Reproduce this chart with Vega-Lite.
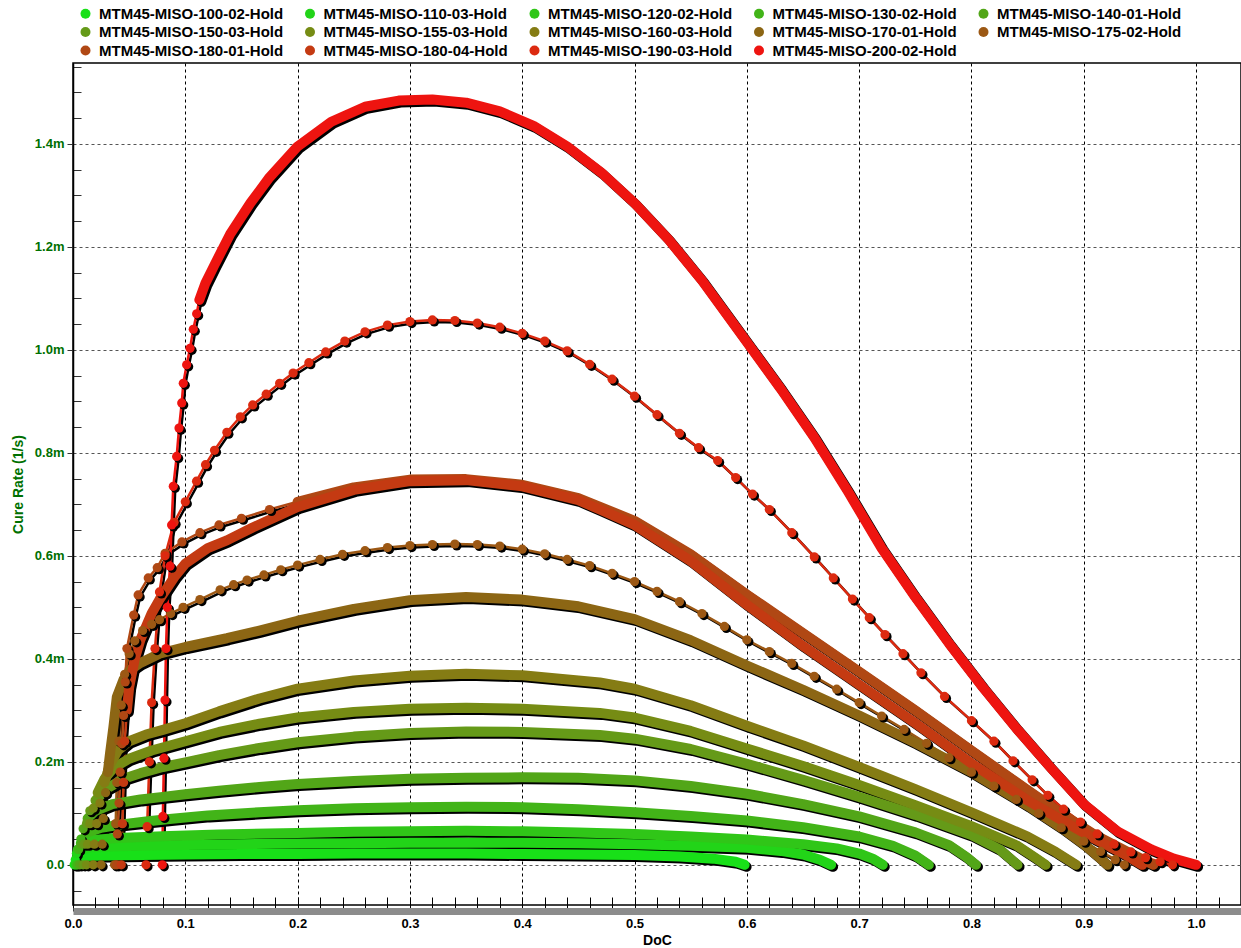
{
"$schema": "https://vega.github.io/schema/vega-lite/v6.json",
"width": 1168, "height": 842,
"autosize": {"type": "none"},
"padding": {"left": 73, "top": 63, "right": 0, "bottom": 43},
"background": "white",
"config": {"font": "Liberation Sans", "view": {"stroke": "black", "strokeWidth": 1.5}},
"data": {"values": [
{"Series":"MTM45-MISO-100-02-Hold","DoC":0.001,"CureRate":0},{"Series":"MTM45-MISO-100-02-Hold","DoC":0.002,"CureRate":0.010},{"Series":"MTM45-MISO-100-02-Hold","DoC":0.004,"CureRate":0.015},{"Series":"MTM45-MISO-100-02-Hold","DoC":0.01,"CureRate":0.017},{"Series":"MTM45-MISO-100-02-Hold","DoC":0.03,"CureRate":0.018},{"Series":"MTM45-MISO-100-02-Hold","DoC":0.06,"CureRate":0.019},{"Series":"MTM45-MISO-100-02-Hold","DoC":0.1,"CureRate":0.020},{"Series":"MTM45-MISO-100-02-Hold","DoC":0.15,"CureRate":0.021},{"Series":"MTM45-MISO-100-02-Hold","DoC":0.2,"CureRate":0.021},{"Series":"MTM45-MISO-100-02-Hold","DoC":0.25,"CureRate":0.022},{"Series":"MTM45-MISO-100-02-Hold","DoC":0.3,"CureRate":0.022},{"Series":"MTM45-MISO-100-02-Hold","DoC":0.35,"CureRate":0.022},{"Series":"MTM45-MISO-100-02-Hold","DoC":0.4,"CureRate":0.021},{"Series":"MTM45-MISO-100-02-Hold","DoC":0.45,"CureRate":0.020},{"Series":"MTM45-MISO-100-02-Hold","DoC":0.5,"CureRate":0.019},{"Series":"MTM45-MISO-100-02-Hold","DoC":0.54,"CureRate":0.016},{"Series":"MTM45-MISO-100-02-Hold","DoC":0.57,"CureRate":0.012},{"Series":"MTM45-MISO-100-02-Hold","DoC":0.59,"CureRate":0.006},{"Series":"MTM45-MISO-100-02-Hold","DoC":0.598,"CureRate":0},
{"Series":"MTM45-MISO-110-03-Hold","DoC":0.002,"CureRate":0},{"Series":"MTM45-MISO-110-03-Hold","DoC":0.003,"CureRate":0.022},{"Series":"MTM45-MISO-110-03-Hold","DoC":0.006,"CureRate":0.030},{"Series":"MTM45-MISO-110-03-Hold","DoC":0.015,"CureRate":0.034},{"Series":"MTM45-MISO-110-03-Hold","DoC":0.04,"CureRate":0.036},{"Series":"MTM45-MISO-110-03-Hold","DoC":0.08,"CureRate":0.038},{"Series":"MTM45-MISO-110-03-Hold","DoC":0.12,"CureRate":0.039},{"Series":"MTM45-MISO-110-03-Hold","DoC":0.18,"CureRate":0.041},{"Series":"MTM45-MISO-110-03-Hold","DoC":0.25,"CureRate":0.042},{"Series":"MTM45-MISO-110-03-Hold","DoC":0.3,"CureRate":0.043},{"Series":"MTM45-MISO-110-03-Hold","DoC":0.35,"CureRate":0.043},{"Series":"MTM45-MISO-110-03-Hold","DoC":0.4,"CureRate":0.043},{"Series":"MTM45-MISO-110-03-Hold","DoC":0.45,"CureRate":0.042},{"Series":"MTM45-MISO-110-03-Hold","DoC":0.5,"CureRate":0.040},{"Series":"MTM45-MISO-110-03-Hold","DoC":0.55,"CureRate":0.037},{"Series":"MTM45-MISO-110-03-Hold","DoC":0.6,"CureRate":0.033},{"Series":"MTM45-MISO-110-03-Hold","DoC":0.63,"CureRate":0.027},{"Series":"MTM45-MISO-110-03-Hold","DoC":0.65,"CureRate":0.020},{"Series":"MTM45-MISO-110-03-Hold","DoC":0.665,"CureRate":0.010},{"Series":"MTM45-MISO-110-03-Hold","DoC":0.675,"CureRate":0},
{"Series":"MTM45-MISO-120-02-Hold","DoC":0.003,"CureRate":0},{"Series":"MTM45-MISO-120-02-Hold","DoC":0.004,"CureRate":0.030},{"Series":"MTM45-MISO-120-02-Hold","DoC":0.007,"CureRate":0.042},{"Series":"MTM45-MISO-120-02-Hold","DoC":0.015,"CureRate":0.048},{"Series":"MTM45-MISO-120-02-Hold","DoC":0.04,"CureRate":0.052},{"Series":"MTM45-MISO-120-02-Hold","DoC":0.086,"CureRate":0.056},{"Series":"MTM45-MISO-120-02-Hold","DoC":0.13,"CureRate":0.059},{"Series":"MTM45-MISO-120-02-Hold","DoC":0.2,"CureRate":0.062},{"Series":"MTM45-MISO-120-02-Hold","DoC":0.25,"CureRate":0.064},{"Series":"MTM45-MISO-120-02-Hold","DoC":0.3,"CureRate":0.065},{"Series":"MTM45-MISO-120-02-Hold","DoC":0.35,"CureRate":0.066},{"Series":"MTM45-MISO-120-02-Hold","DoC":0.4,"CureRate":0.065},{"Series":"MTM45-MISO-120-02-Hold","DoC":0.45,"CureRate":0.063},{"Series":"MTM45-MISO-120-02-Hold","DoC":0.5,"CureRate":0.060},{"Series":"MTM45-MISO-120-02-Hold","DoC":0.55,"CureRate":0.055},{"Series":"MTM45-MISO-120-02-Hold","DoC":0.6,"CureRate":0.049},{"Series":"MTM45-MISO-120-02-Hold","DoC":0.65,"CureRate":0.040},{"Series":"MTM45-MISO-120-02-Hold","DoC":0.68,"CureRate":0.032},{"Series":"MTM45-MISO-120-02-Hold","DoC":0.7,"CureRate":0.022},{"Series":"MTM45-MISO-120-02-Hold","DoC":0.713,"CureRate":0.011},{"Series":"MTM45-MISO-120-02-Hold","DoC":0.721,"CureRate":0},
{"Series":"MTM45-MISO-130-02-Hold","DoC":0.004,"CureRate":0},{"Series":"MTM45-MISO-130-02-Hold","DoC":0.005,"CureRate":0.030},{"Series":"MTM45-MISO-130-02-Hold","DoC":0.007,"CureRate":0.050},{"Series":"MTM45-MISO-130-02-Hold","DoC":0.012,"CureRate":0.062},{"Series":"MTM45-MISO-130-02-Hold","DoC":0.025,"CureRate":0.072},{"Series":"MTM45-MISO-130-02-Hold","DoC":0.045,"CureRate":0.079},{"Series":"MTM45-MISO-130-02-Hold","DoC":0.065,"CureRate":0.084},{"Series":"MTM45-MISO-130-02-Hold","DoC":0.086,"CureRate":0.089},{"Series":"MTM45-MISO-130-02-Hold","DoC":0.12,"CureRate":0.096},{"Series":"MTM45-MISO-130-02-Hold","DoC":0.166,"CureRate":0.102},{"Series":"MTM45-MISO-130-02-Hold","DoC":0.2,"CureRate":0.106},{"Series":"MTM45-MISO-130-02-Hold","DoC":0.25,"CureRate":0.110},{"Series":"MTM45-MISO-130-02-Hold","DoC":0.3,"CureRate":0.112},{"Series":"MTM45-MISO-130-02-Hold","DoC":0.35,"CureRate":0.113},{"Series":"MTM45-MISO-130-02-Hold","DoC":0.4,"CureRate":0.112},{"Series":"MTM45-MISO-130-02-Hold","DoC":0.45,"CureRate":0.108},{"Series":"MTM45-MISO-130-02-Hold","DoC":0.5,"CureRate":0.102},{"Series":"MTM45-MISO-130-02-Hold","DoC":0.55,"CureRate":0.095},{"Series":"MTM45-MISO-130-02-Hold","DoC":0.6,"CureRate":0.086},{"Series":"MTM45-MISO-130-02-Hold","DoC":0.65,"CureRate":0.073},{"Series":"MTM45-MISO-130-02-Hold","DoC":0.7,"CureRate":0.055},{"Series":"MTM45-MISO-130-02-Hold","DoC":0.73,"CureRate":0.037},{"Series":"MTM45-MISO-130-02-Hold","DoC":0.75,"CureRate":0.018},{"Series":"MTM45-MISO-130-02-Hold","DoC":0.762,"CureRate":0},
{"Series":"MTM45-MISO-140-01-Hold","DoC":0.006,"CureRate":0},{"Series":"MTM45-MISO-140-01-Hold","DoC":0.007,"CureRate":0.040},{"Series":"MTM45-MISO-140-01-Hold","DoC":0.009,"CureRate":0.070},{"Series":"MTM45-MISO-140-01-Hold","DoC":0.013,"CureRate":0.090},{"Series":"MTM45-MISO-140-01-Hold","DoC":0.02,"CureRate":0.105},{"Series":"MTM45-MISO-140-01-Hold","DoC":0.035,"CureRate":0.118},{"Series":"MTM45-MISO-140-01-Hold","DoC":0.06,"CureRate":0.127},{"Series":"MTM45-MISO-140-01-Hold","DoC":0.08,"CureRate":0.132},{"Series":"MTM45-MISO-140-01-Hold","DoC":0.1,"CureRate":0.137},{"Series":"MTM45-MISO-140-01-Hold","DoC":0.13,"CureRate":0.144},{"Series":"MTM45-MISO-140-01-Hold","DoC":0.166,"CureRate":0.151},{"Series":"MTM45-MISO-140-01-Hold","DoC":0.2,"CureRate":0.157},{"Series":"MTM45-MISO-140-01-Hold","DoC":0.25,"CureRate":0.163},{"Series":"MTM45-MISO-140-01-Hold","DoC":0.3,"CureRate":0.167},{"Series":"MTM45-MISO-140-01-Hold","DoC":0.35,"CureRate":0.169},{"Series":"MTM45-MISO-140-01-Hold","DoC":0.4,"CureRate":0.170},{"Series":"MTM45-MISO-140-01-Hold","DoC":0.45,"CureRate":0.169},{"Series":"MTM45-MISO-140-01-Hold","DoC":0.5,"CureRate":0.164},{"Series":"MTM45-MISO-140-01-Hold","DoC":0.55,"CureRate":0.153},{"Series":"MTM45-MISO-140-01-Hold","DoC":0.6,"CureRate":0.138},{"Series":"MTM45-MISO-140-01-Hold","DoC":0.65,"CureRate":0.118},{"Series":"MTM45-MISO-140-01-Hold","DoC":0.7,"CureRate":0.094},{"Series":"MTM45-MISO-140-01-Hold","DoC":0.75,"CureRate":0.063},{"Series":"MTM45-MISO-140-01-Hold","DoC":0.78,"CureRate":0.038},{"Series":"MTM45-MISO-140-01-Hold","DoC":0.795,"CureRate":0.016},{"Series":"MTM45-MISO-140-01-Hold","DoC":0.804,"CureRate":0},
{"Series":"MTM45-MISO-150-03-Hold","DoC":0.009,"CureRate":0},{"Series":"MTM45-MISO-150-03-Hold","DoC":0.01,"CureRate":0.040},{"Series":"MTM45-MISO-150-03-Hold","DoC":0.012,"CureRate":0.080},{"Series":"MTM45-MISO-150-03-Hold","DoC":0.015,"CureRate":0.105},{"Series":"MTM45-MISO-150-03-Hold","DoC":0.02,"CureRate":0.125},{"Series":"MTM45-MISO-150-03-Hold","DoC":0.03,"CureRate":0.148},{"Series":"MTM45-MISO-150-03-Hold","DoC":0.045,"CureRate":0.167},{"Series":"MTM45-MISO-150-03-Hold","DoC":0.06,"CureRate":0.178},{"Series":"MTM45-MISO-150-03-Hold","DoC":0.08,"CureRate":0.190},{"Series":"MTM45-MISO-150-03-Hold","DoC":0.1,"CureRate":0.199},{"Series":"MTM45-MISO-150-03-Hold","DoC":0.13,"CureRate":0.213},{"Series":"MTM45-MISO-150-03-Hold","DoC":0.166,"CureRate":0.227},{"Series":"MTM45-MISO-150-03-Hold","DoC":0.2,"CureRate":0.238},{"Series":"MTM45-MISO-150-03-Hold","DoC":0.25,"CureRate":0.249},{"Series":"MTM45-MISO-150-03-Hold","DoC":0.3,"CureRate":0.256},{"Series":"MTM45-MISO-150-03-Hold","DoC":0.35,"CureRate":0.259},{"Series":"MTM45-MISO-150-03-Hold","DoC":0.4,"CureRate":0.258},{"Series":"MTM45-MISO-150-03-Hold","DoC":0.469,"CureRate":0.252},{"Series":"MTM45-MISO-150-03-Hold","DoC":0.5,"CureRate":0.245},{"Series":"MTM45-MISO-150-03-Hold","DoC":0.55,"CureRate":0.225},{"Series":"MTM45-MISO-150-03-Hold","DoC":0.6,"CureRate":0.196},{"Series":"MTM45-MISO-150-03-Hold","DoC":0.65,"CureRate":0.165},{"Series":"MTM45-MISO-150-03-Hold","DoC":0.7,"CureRate":0.132},{"Series":"MTM45-MISO-150-03-Hold","DoC":0.75,"CureRate":0.097},{"Series":"MTM45-MISO-150-03-Hold","DoC":0.8,"CureRate":0.058},{"Series":"MTM45-MISO-150-03-Hold","DoC":0.825,"CureRate":0.030},{"Series":"MTM45-MISO-150-03-Hold","DoC":0.841,"CureRate":0},
{"Series":"MTM45-MISO-155-03-Hold","DoC":0.012,"CureRate":0},{"Series":"MTM45-MISO-155-03-Hold","DoC":0.013,"CureRate":0.040},{"Series":"MTM45-MISO-155-03-Hold","DoC":0.015,"CureRate":0.080},{"Series":"MTM45-MISO-155-03-Hold","DoC":0.018,"CureRate":0.110},{"Series":"MTM45-MISO-155-03-Hold","DoC":0.022,"CureRate":0.140},{"Series":"MTM45-MISO-155-03-Hold","DoC":0.028,"CureRate":0.167},{"Series":"MTM45-MISO-155-03-Hold","DoC":0.036,"CureRate":0.188},{"Series":"MTM45-MISO-155-03-Hold","DoC":0.05,"CureRate":0.206},{"Series":"MTM45-MISO-155-03-Hold","DoC":0.07,"CureRate":0.222},{"Series":"MTM45-MISO-155-03-Hold","DoC":0.1,"CureRate":0.240},{"Series":"MTM45-MISO-155-03-Hold","DoC":0.13,"CureRate":0.258},{"Series":"MTM45-MISO-155-03-Hold","DoC":0.166,"CureRate":0.274},{"Series":"MTM45-MISO-155-03-Hold","DoC":0.2,"CureRate":0.286},{"Series":"MTM45-MISO-155-03-Hold","DoC":0.25,"CureRate":0.297},{"Series":"MTM45-MISO-155-03-Hold","DoC":0.3,"CureRate":0.303},{"Series":"MTM45-MISO-155-03-Hold","DoC":0.35,"CureRate":0.305},{"Series":"MTM45-MISO-155-03-Hold","DoC":0.4,"CureRate":0.303},{"Series":"MTM45-MISO-155-03-Hold","DoC":0.469,"CureRate":0.295},{"Series":"MTM45-MISO-155-03-Hold","DoC":0.5,"CureRate":0.286},{"Series":"MTM45-MISO-155-03-Hold","DoC":0.55,"CureRate":0.260},{"Series":"MTM45-MISO-155-03-Hold","DoC":0.6,"CureRate":0.226},{"Series":"MTM45-MISO-155-03-Hold","DoC":0.65,"CureRate":0.192},{"Series":"MTM45-MISO-155-03-Hold","DoC":0.7,"CureRate":0.155},{"Series":"MTM45-MISO-155-03-Hold","DoC":0.75,"CureRate":0.116},{"Series":"MTM45-MISO-155-03-Hold","DoC":0.8,"CureRate":0.075},{"Series":"MTM45-MISO-155-03-Hold","DoC":0.84,"CureRate":0.038},{"Series":"MTM45-MISO-155-03-Hold","DoC":0.856,"CureRate":0.015},{"Series":"MTM45-MISO-155-03-Hold","DoC":0.866,"CureRate":0},
{"Series":"MTM45-MISO-160-03-Hold","DoC":0.018,"CureRate":0},{"Series":"MTM45-MISO-160-03-Hold","DoC":0.019,"CureRate":0.040},{"Series":"MTM45-MISO-160-03-Hold","DoC":0.021,"CureRate":0.080},{"Series":"MTM45-MISO-160-03-Hold","DoC":0.024,"CureRate":0.120},{"Series":"MTM45-MISO-160-03-Hold","DoC":0.028,"CureRate":0.160},{"Series":"MTM45-MISO-160-03-Hold","DoC":0.033,"CureRate":0.195},{"Series":"MTM45-MISO-160-03-Hold","DoC":0.04,"CureRate":0.222},{"Series":"MTM45-MISO-160-03-Hold","DoC":0.05,"CureRate":0.240},{"Series":"MTM45-MISO-160-03-Hold","DoC":0.065,"CureRate":0.253},{"Series":"MTM45-MISO-160-03-Hold","DoC":0.08,"CureRate":0.262},{"Series":"MTM45-MISO-160-03-Hold","DoC":0.1,"CureRate":0.275},{"Series":"MTM45-MISO-160-03-Hold","DoC":0.13,"CureRate":0.298},{"Series":"MTM45-MISO-160-03-Hold","DoC":0.166,"CureRate":0.323},{"Series":"MTM45-MISO-160-03-Hold","DoC":0.2,"CureRate":0.342},{"Series":"MTM45-MISO-160-03-Hold","DoC":0.25,"CureRate":0.358},{"Series":"MTM45-MISO-160-03-Hold","DoC":0.3,"CureRate":0.367},{"Series":"MTM45-MISO-160-03-Hold","DoC":0.35,"CureRate":0.371},{"Series":"MTM45-MISO-160-03-Hold","DoC":0.4,"CureRate":0.368},{"Series":"MTM45-MISO-160-03-Hold","DoC":0.469,"CureRate":0.354},{"Series":"MTM45-MISO-160-03-Hold","DoC":0.5,"CureRate":0.342},{"Series":"MTM45-MISO-160-03-Hold","DoC":0.55,"CureRate":0.310},{"Series":"MTM45-MISO-160-03-Hold","DoC":0.6,"CureRate":0.270},{"Series":"MTM45-MISO-160-03-Hold","DoC":0.65,"CureRate":0.232},{"Series":"MTM45-MISO-160-03-Hold","DoC":0.7,"CureRate":0.190},{"Series":"MTM45-MISO-160-03-Hold","DoC":0.75,"CureRate":0.147},{"Series":"MTM45-MISO-160-03-Hold","DoC":0.8,"CureRate":0.102},{"Series":"MTM45-MISO-160-03-Hold","DoC":0.85,"CureRate":0.055},{"Series":"MTM45-MISO-160-03-Hold","DoC":0.875,"CureRate":0.025},{"Series":"MTM45-MISO-160-03-Hold","DoC":0.893,"CureRate":0},
{"Series":"MTM45-MISO-170-01-Hold","DoC":0.025,"CureRate":0},{"Series":"MTM45-MISO-170-01-Hold","DoC":0.026,"CureRate":0.040},{"Series":"MTM45-MISO-170-01-Hold","DoC":0.027,"CureRate":0.090},{"Series":"MTM45-MISO-170-01-Hold","DoC":0.029,"CureRate":0.140},{"Series":"MTM45-MISO-170-01-Hold","DoC":0.031,"CureRate":0.180},{"Series":"MTM45-MISO-170-01-Hold","DoC":0.033,"CureRate":0.217},{"Series":"MTM45-MISO-170-01-Hold","DoC":0.036,"CureRate":0.268},{"Series":"MTM45-MISO-170-01-Hold","DoC":0.039,"CureRate":0.326},{"Series":"MTM45-MISO-170-01-Hold","DoC":0.045,"CureRate":0.360},{"Series":"MTM45-MISO-170-01-Hold","DoC":0.052,"CureRate":0.380},{"Series":"MTM45-MISO-170-01-Hold","DoC":0.06,"CureRate":0.392},{"Series":"MTM45-MISO-170-01-Hold","DoC":0.077,"CureRate":0.410},{"Series":"MTM45-MISO-170-01-Hold","DoC":0.1,"CureRate":0.423},{"Series":"MTM45-MISO-170-01-Hold","DoC":0.137,"CureRate":0.440},{"Series":"MTM45-MISO-170-01-Hold","DoC":0.166,"CureRate":0.455},{"Series":"MTM45-MISO-170-01-Hold","DoC":0.2,"CureRate":0.474},{"Series":"MTM45-MISO-170-01-Hold","DoC":0.25,"CureRate":0.497},{"Series":"MTM45-MISO-170-01-Hold","DoC":0.3,"CureRate":0.514},{"Series":"MTM45-MISO-170-01-Hold","DoC":0.35,"CureRate":0.520},{"Series":"MTM45-MISO-170-01-Hold","DoC":0.4,"CureRate":0.515},{"Series":"MTM45-MISO-170-01-Hold","DoC":0.45,"CureRate":0.502},{"Series":"MTM45-MISO-170-01-Hold","DoC":0.5,"CureRate":0.477},{"Series":"MTM45-MISO-170-01-Hold","DoC":0.55,"CureRate":0.436},{"Series":"MTM45-MISO-170-01-Hold","DoC":0.6,"CureRate":0.387},{"Series":"MTM45-MISO-170-01-Hold","DoC":0.65,"CureRate":0.340},{"Series":"MTM45-MISO-170-01-Hold","DoC":0.7,"CureRate":0.290},{"Series":"MTM45-MISO-170-01-Hold","DoC":0.75,"CureRate":0.237},{"Series":"MTM45-MISO-170-01-Hold","DoC":0.8,"CureRate":0.180},{"Series":"MTM45-MISO-170-01-Hold","DoC":0.85,"CureRate":0.115},{"Series":"MTM45-MISO-170-01-Hold","DoC":0.88,"CureRate":0.072},{"Series":"MTM45-MISO-170-01-Hold","DoC":0.9,"CureRate":0.040},{"Series":"MTM45-MISO-170-01-Hold","DoC":0.912,"CureRate":0.018},{"Series":"MTM45-MISO-170-01-Hold","DoC":0.921,"CureRate":0},
{"Series":"MTM45-MISO-175-02-Hold","DoC":0.037,"CureRate":0},{"Series":"MTM45-MISO-175-02-Hold","DoC":0.038,"CureRate":0.080},{"Series":"MTM45-MISO-175-02-Hold","DoC":0.039,"CureRate":0.160},{"Series":"MTM45-MISO-175-02-Hold","DoC":0.041,"CureRate":0.240},{"Series":"MTM45-MISO-175-02-Hold","DoC":0.043,"CureRate":0.310},{"Series":"MTM45-MISO-175-02-Hold","DoC":0.046,"CureRate":0.370},{"Series":"MTM45-MISO-175-02-Hold","DoC":0.05,"CureRate":0.410},{"Series":"MTM45-MISO-175-02-Hold","DoC":0.055,"CureRate":0.435},{"Series":"MTM45-MISO-175-02-Hold","DoC":0.062,"CureRate":0.455},{"Series":"MTM45-MISO-175-02-Hold","DoC":0.07,"CureRate":0.467},{"Series":"MTM45-MISO-175-02-Hold","DoC":0.077,"CureRate":0.476},{"Series":"MTM45-MISO-175-02-Hold","DoC":0.087,"CureRate":0.488},{"Series":"MTM45-MISO-175-02-Hold","DoC":0.098,"CureRate":0.500},{"Series":"MTM45-MISO-175-02-Hold","DoC":0.113,"CureRate":0.515},{"Series":"MTM45-MISO-175-02-Hold","DoC":0.131,"CureRate":0.534},{"Series":"MTM45-MISO-175-02-Hold","DoC":0.143,"CureRate":0.544},{"Series":"MTM45-MISO-175-02-Hold","DoC":0.155,"CureRate":0.553},{"Series":"MTM45-MISO-175-02-Hold","DoC":0.17,"CureRate":0.563},{"Series":"MTM45-MISO-175-02-Hold","DoC":0.185,"CureRate":0.573},{"Series":"MTM45-MISO-175-02-Hold","DoC":0.2,"CureRate":0.582},{"Series":"MTM45-MISO-175-02-Hold","DoC":0.22,"CureRate":0.593},{"Series":"MTM45-MISO-175-02-Hold","DoC":0.24,"CureRate":0.603},{"Series":"MTM45-MISO-175-02-Hold","DoC":0.26,"CureRate":0.610},{"Series":"MTM45-MISO-175-02-Hold","DoC":0.28,"CureRate":0.616},{"Series":"MTM45-MISO-175-02-Hold","DoC":0.3,"CureRate":0.620},{"Series":"MTM45-MISO-175-02-Hold","DoC":0.32,"CureRate":0.622},{"Series":"MTM45-MISO-175-02-Hold","DoC":0.34,"CureRate":0.623},{"Series":"MTM45-MISO-175-02-Hold","DoC":0.36,"CureRate":0.622},{"Series":"MTM45-MISO-175-02-Hold","DoC":0.38,"CureRate":0.619},{"Series":"MTM45-MISO-175-02-Hold","DoC":0.4,"CureRate":0.613},{"Series":"MTM45-MISO-175-02-Hold","DoC":0.42,"CureRate":0.604},{"Series":"MTM45-MISO-175-02-Hold","DoC":0.44,"CureRate":0.593},{"Series":"MTM45-MISO-175-02-Hold","DoC":0.46,"CureRate":0.581},{"Series":"MTM45-MISO-175-02-Hold","DoC":0.48,"CureRate":0.566},{"Series":"MTM45-MISO-175-02-Hold","DoC":0.5,"CureRate":0.550},{"Series":"MTM45-MISO-175-02-Hold","DoC":0.52,"CureRate":0.531},{"Series":"MTM45-MISO-175-02-Hold","DoC":0.54,"CureRate":0.511},{"Series":"MTM45-MISO-175-02-Hold","DoC":0.56,"CureRate":0.488},{"Series":"MTM45-MISO-175-02-Hold","DoC":0.58,"CureRate":0.463},{"Series":"MTM45-MISO-175-02-Hold","DoC":0.6,"CureRate":0.437},{"Series":"MTM45-MISO-175-02-Hold","DoC":0.62,"CureRate":0.414},{"Series":"MTM45-MISO-175-02-Hold","DoC":0.64,"CureRate":0.391},{"Series":"MTM45-MISO-175-02-Hold","DoC":0.66,"CureRate":0.366},{"Series":"MTM45-MISO-175-02-Hold","DoC":0.68,"CureRate":0.341},{"Series":"MTM45-MISO-175-02-Hold","DoC":0.7,"CureRate":0.315},{"Series":"MTM45-MISO-175-02-Hold","DoC":0.72,"CureRate":0.289},{"Series":"MTM45-MISO-175-02-Hold","DoC":0.74,"CureRate":0.263},{"Series":"MTM45-MISO-175-02-Hold","DoC":0.76,"CureRate":0.236},{"Series":"MTM45-MISO-175-02-Hold","DoC":0.78,"CureRate":0.208},{"Series":"MTM45-MISO-175-02-Hold","DoC":0.8,"CureRate":0.180},{"Series":"MTM45-MISO-175-02-Hold","DoC":0.82,"CureRate":0.153},{"Series":"MTM45-MISO-175-02-Hold","DoC":0.84,"CureRate":0.127},{"Series":"MTM45-MISO-175-02-Hold","DoC":0.86,"CureRate":0.100},{"Series":"MTM45-MISO-175-02-Hold","DoC":0.88,"CureRate":0.072},{"Series":"MTM45-MISO-175-02-Hold","DoC":0.9,"CureRate":0.046},{"Series":"MTM45-MISO-175-02-Hold","DoC":0.915,"CureRate":0.026},{"Series":"MTM45-MISO-175-02-Hold","DoC":0.928,"CureRate":0.010},{"Series":"MTM45-MISO-175-02-Hold","DoC":0.936,"CureRate":0},
{"Series":"MTM45-MISO-180-01-Hold","DoC":0.039,"CureRate":0},{"Series":"MTM45-MISO-180-01-Hold","DoC":0.0395,"CureRate":0.060},{"Series":"MTM45-MISO-180-01-Hold","DoC":0.041,"CureRate":0.120},{"Series":"MTM45-MISO-180-01-Hold","DoC":0.042,"CureRate":0.180},{"Series":"MTM45-MISO-180-01-Hold","DoC":0.0435,"CureRate":0.235},{"Series":"MTM45-MISO-180-01-Hold","DoC":0.045,"CureRate":0.290},{"Series":"MTM45-MISO-180-01-Hold","DoC":0.0465,"CureRate":0.355},{"Series":"MTM45-MISO-180-01-Hold","DoC":0.048,"CureRate":0.420},{"Series":"MTM45-MISO-180-01-Hold","DoC":0.054,"CureRate":0.485},{"Series":"MTM45-MISO-180-01-Hold","DoC":0.058,"CureRate":0.524},{"Series":"MTM45-MISO-180-01-Hold","DoC":0.067,"CureRate":0.557},{"Series":"MTM45-MISO-180-01-Hold","DoC":0.075,"CureRate":0.577},{"Series":"MTM45-MISO-180-01-Hold","DoC":0.082,"CureRate":0.605},{"Series":"MTM45-MISO-180-01-Hold","DoC":0.097,"CureRate":0.627},{"Series":"MTM45-MISO-180-01-Hold","DoC":0.113,"CureRate":0.645},{"Series":"MTM45-MISO-180-01-Hold","DoC":0.13,"CureRate":0.660},{"Series":"MTM45-MISO-180-01-Hold","DoC":0.15,"CureRate":0.673},{"Series":"MTM45-MISO-180-01-Hold","DoC":0.175,"CureRate":0.690},{"Series":"MTM45-MISO-180-01-Hold","DoC":0.2,"CureRate":0.705},{"Series":"MTM45-MISO-180-01-Hold","DoC":0.25,"CureRate":0.733},{"Series":"MTM45-MISO-180-01-Hold","DoC":0.3,"CureRate":0.748},{"Series":"MTM45-MISO-180-01-Hold","DoC":0.35,"CureRate":0.749},{"Series":"MTM45-MISO-180-01-Hold","DoC":0.4,"CureRate":0.738},{"Series":"MTM45-MISO-180-01-Hold","DoC":0.45,"CureRate":0.712},{"Series":"MTM45-MISO-180-01-Hold","DoC":0.5,"CureRate":0.668},{"Series":"MTM45-MISO-180-01-Hold","DoC":0.55,"CureRate":0.603},{"Series":"MTM45-MISO-180-01-Hold","DoC":0.6,"CureRate":0.525},{"Series":"MTM45-MISO-180-01-Hold","DoC":0.65,"CureRate":0.450},{"Series":"MTM45-MISO-180-01-Hold","DoC":0.7,"CureRate":0.375},{"Series":"MTM45-MISO-180-01-Hold","DoC":0.75,"CureRate":0.300},{"Series":"MTM45-MISO-180-01-Hold","DoC":0.8,"CureRate":0.222},{"Series":"MTM45-MISO-180-01-Hold","DoC":0.85,"CureRate":0.145},{"Series":"MTM45-MISO-180-01-Hold","DoC":0.88,"CureRate":0.100},{"Series":"MTM45-MISO-180-01-Hold","DoC":0.91,"CureRate":0.058},{"Series":"MTM45-MISO-180-01-Hold","DoC":0.94,"CureRate":0.024},{"Series":"MTM45-MISO-180-01-Hold","DoC":0.962,"CureRate":0},
{"Series":"MTM45-MISO-180-04-Hold","DoC":0.043,"CureRate":0},{"Series":"MTM45-MISO-180-04-Hold","DoC":0.044,"CureRate":0.080},{"Series":"MTM45-MISO-180-04-Hold","DoC":0.045,"CureRate":0.160},{"Series":"MTM45-MISO-180-04-Hold","DoC":0.046,"CureRate":0.240},{"Series":"MTM45-MISO-180-04-Hold","DoC":0.048,"CureRate":0.300},{"Series":"MTM45-MISO-180-04-Hold","DoC":0.05,"CureRate":0.345},{"Series":"MTM45-MISO-180-04-Hold","DoC":0.055,"CureRate":0.400},{"Series":"MTM45-MISO-180-04-Hold","DoC":0.06,"CureRate":0.437},{"Series":"MTM45-MISO-180-04-Hold","DoC":0.07,"CureRate":0.488},{"Series":"MTM45-MISO-180-04-Hold","DoC":0.077,"CureRate":0.515},{"Series":"MTM45-MISO-180-04-Hold","DoC":0.09,"CureRate":0.558},{"Series":"MTM45-MISO-180-04-Hold","DoC":0.1,"CureRate":0.585},{"Series":"MTM45-MISO-180-04-Hold","DoC":0.12,"CureRate":0.615},{"Series":"MTM45-MISO-180-04-Hold","DoC":0.137,"CureRate":0.630},{"Series":"MTM45-MISO-180-04-Hold","DoC":0.16,"CureRate":0.655},{"Series":"MTM45-MISO-180-04-Hold","DoC":0.2,"CureRate":0.695},{"Series":"MTM45-MISO-180-04-Hold","DoC":0.25,"CureRate":0.728},{"Series":"MTM45-MISO-180-04-Hold","DoC":0.3,"CureRate":0.745},{"Series":"MTM45-MISO-180-04-Hold","DoC":0.35,"CureRate":0.747},{"Series":"MTM45-MISO-180-04-Hold","DoC":0.4,"CureRate":0.735},{"Series":"MTM45-MISO-180-04-Hold","DoC":0.45,"CureRate":0.708},{"Series":"MTM45-MISO-180-04-Hold","DoC":0.469,"CureRate":0.690},{"Series":"MTM45-MISO-180-04-Hold","DoC":0.5,"CureRate":0.660},{"Series":"MTM45-MISO-180-04-Hold","DoC":0.55,"CureRate":0.590},{"Series":"MTM45-MISO-180-04-Hold","DoC":0.6,"CureRate":0.505},{"Series":"MTM45-MISO-180-04-Hold","DoC":0.65,"CureRate":0.425},{"Series":"MTM45-MISO-180-04-Hold","DoC":0.7,"CureRate":0.350},{"Series":"MTM45-MISO-180-04-Hold","DoC":0.75,"CureRate":0.275},{"Series":"MTM45-MISO-180-04-Hold","DoC":0.8,"CureRate":0.197},{"Series":"MTM45-MISO-180-04-Hold","DoC":0.85,"CureRate":0.125},{"Series":"MTM45-MISO-180-04-Hold","DoC":0.88,"CureRate":0.087},{"Series":"MTM45-MISO-180-04-Hold","DoC":0.91,"CureRate":0.050},{"Series":"MTM45-MISO-180-04-Hold","DoC":0.935,"CureRate":0.022},{"Series":"MTM45-MISO-180-04-Hold","DoC":0.952,"CureRate":0},
{"Series":"MTM45-MISO-190-03-Hold","DoC":0.065,"CureRate":0},{"Series":"MTM45-MISO-190-03-Hold","DoC":0.066,"CureRate":0.074},{"Series":"MTM45-MISO-190-03-Hold","DoC":0.068,"CureRate":0.200},{"Series":"MTM45-MISO-190-03-Hold","DoC":0.07,"CureRate":0.315},{"Series":"MTM45-MISO-190-03-Hold","DoC":0.073,"CureRate":0.420},{"Series":"MTM45-MISO-190-03-Hold","DoC":0.077,"CureRate":0.530},{"Series":"MTM45-MISO-190-03-Hold","DoC":0.082,"CureRate":0.600},{"Series":"MTM45-MISO-190-03-Hold","DoC":0.09,"CureRate":0.665},{"Series":"MTM45-MISO-190-03-Hold","DoC":0.1,"CureRate":0.705},{"Series":"MTM45-MISO-190-03-Hold","DoC":0.11,"CureRate":0.745},{"Series":"MTM45-MISO-190-03-Hold","DoC":0.118,"CureRate":0.777},{"Series":"MTM45-MISO-190-03-Hold","DoC":0.126,"CureRate":0.805},{"Series":"MTM45-MISO-190-03-Hold","DoC":0.137,"CureRate":0.840},{"Series":"MTM45-MISO-190-03-Hold","DoC":0.149,"CureRate":0.870},{"Series":"MTM45-MISO-190-03-Hold","DoC":0.16,"CureRate":0.893},{"Series":"MTM45-MISO-190-03-Hold","DoC":0.172,"CureRate":0.914},{"Series":"MTM45-MISO-190-03-Hold","DoC":0.184,"CureRate":0.935},{"Series":"MTM45-MISO-190-03-Hold","DoC":0.196,"CureRate":0.955},{"Series":"MTM45-MISO-190-03-Hold","DoC":0.21,"CureRate":0.975},{"Series":"MTM45-MISO-190-03-Hold","DoC":0.225,"CureRate":0.996},{"Series":"MTM45-MISO-190-03-Hold","DoC":0.242,"CureRate":1.017},{"Series":"MTM45-MISO-190-03-Hold","DoC":0.26,"CureRate":1.035},{"Series":"MTM45-MISO-190-03-Hold","DoC":0.28,"CureRate":1.048},{"Series":"MTM45-MISO-190-03-Hold","DoC":0.3,"CureRate":1.055},{"Series":"MTM45-MISO-190-03-Hold","DoC":0.32,"CureRate":1.058},{"Series":"MTM45-MISO-190-03-Hold","DoC":0.34,"CureRate":1.057},{"Series":"MTM45-MISO-190-03-Hold","DoC":0.36,"CureRate":1.052},{"Series":"MTM45-MISO-190-03-Hold","DoC":0.38,"CureRate":1.044},{"Series":"MTM45-MISO-190-03-Hold","DoC":0.4,"CureRate":1.032},{"Series":"MTM45-MISO-190-03-Hold","DoC":0.42,"CureRate":1.017},{"Series":"MTM45-MISO-190-03-Hold","DoC":0.44,"CureRate":0.998},{"Series":"MTM45-MISO-190-03-Hold","DoC":0.46,"CureRate":0.972},{"Series":"MTM45-MISO-190-03-Hold","DoC":0.48,"CureRate":0.943},{"Series":"MTM45-MISO-190-03-Hold","DoC":0.5,"CureRate":0.910},{"Series":"MTM45-MISO-190-03-Hold","DoC":0.52,"CureRate":0.874},{"Series":"MTM45-MISO-190-03-Hold","DoC":0.54,"CureRate":0.838},{"Series":"MTM45-MISO-190-03-Hold","DoC":0.557,"CureRate":0.810},{"Series":"MTM45-MISO-190-03-Hold","DoC":0.574,"CureRate":0.785},{"Series":"MTM45-MISO-190-03-Hold","DoC":0.59,"CureRate":0.752},{"Series":"MTM45-MISO-190-03-Hold","DoC":0.605,"CureRate":0.720},{"Series":"MTM45-MISO-190-03-Hold","DoC":0.62,"CureRate":0.690},{"Series":"MTM45-MISO-190-03-Hold","DoC":0.64,"CureRate":0.645},{"Series":"MTM45-MISO-190-03-Hold","DoC":0.66,"CureRate":0.598},{"Series":"MTM45-MISO-190-03-Hold","DoC":0.677,"CureRate":0.557},{"Series":"MTM45-MISO-190-03-Hold","DoC":0.694,"CureRate":0.516},{"Series":"MTM45-MISO-190-03-Hold","DoC":0.709,"CureRate":0.480},{"Series":"MTM45-MISO-190-03-Hold","DoC":0.723,"CureRate":0.447},{"Series":"MTM45-MISO-190-03-Hold","DoC":0.739,"CureRate":0.410},{"Series":"MTM45-MISO-190-03-Hold","DoC":0.755,"CureRate":0.373},{"Series":"MTM45-MISO-190-03-Hold","DoC":0.776,"CureRate":0.327},{"Series":"MTM45-MISO-190-03-Hold","DoC":0.8,"CureRate":0.280},{"Series":"MTM45-MISO-190-03-Hold","DoC":0.82,"CureRate":0.240},{"Series":"MTM45-MISO-190-03-Hold","DoC":0.837,"CureRate":0.202},{"Series":"MTM45-MISO-190-03-Hold","DoC":0.854,"CureRate":0.165},{"Series":"MTM45-MISO-190-03-Hold","DoC":0.868,"CureRate":0.135},{"Series":"MTM45-MISO-190-03-Hold","DoC":0.882,"CureRate":0.108},{"Series":"MTM45-MISO-190-03-Hold","DoC":0.897,"CureRate":0.083},{"Series":"MTM45-MISO-190-03-Hold","DoC":0.912,"CureRate":0.060},{"Series":"MTM45-MISO-190-03-Hold","DoC":0.927,"CureRate":0.040},{"Series":"MTM45-MISO-190-03-Hold","DoC":0.942,"CureRate":0.025},{"Series":"MTM45-MISO-190-03-Hold","DoC":0.955,"CureRate":0.014},{"Series":"MTM45-MISO-190-03-Hold","DoC":0.968,"CureRate":0.006},{"Series":"MTM45-MISO-190-03-Hold","DoC":0.979,"CureRate":0},
{"Series":"MTM45-MISO-200-02-Hold","DoC":0.0795,"CureRate":0},{"Series":"MTM45-MISO-200-02-Hold","DoC":0.08,"CureRate":0.094},{"Series":"MTM45-MISO-200-02-Hold","DoC":0.081,"CureRate":0.207},{"Series":"MTM45-MISO-200-02-Hold","DoC":0.0819,"CureRate":0.320},{"Series":"MTM45-MISO-200-02-Hold","DoC":0.0828,"CureRate":0.420},{"Series":"MTM45-MISO-200-02-Hold","DoC":0.084,"CureRate":0.500},{"Series":"MTM45-MISO-200-02-Hold","DoC":0.0864,"CureRate":0.580},{"Series":"MTM45-MISO-200-02-Hold","DoC":0.0878,"CureRate":0.660},{"Series":"MTM45-MISO-200-02-Hold","DoC":0.0893,"CureRate":0.735},{"Series":"MTM45-MISO-200-02-Hold","DoC":0.0923,"CureRate":0.793},{"Series":"MTM45-MISO-200-02-Hold","DoC":0.0944,"CureRate":0.848},{"Series":"MTM45-MISO-200-02-Hold","DoC":0.0968,"CureRate":0.897},{"Series":"MTM45-MISO-200-02-Hold","DoC":0.0982,"CureRate":0.935},{"Series":"MTM45-MISO-200-02-Hold","DoC":0.1012,"CureRate":0.971},{"Series":"MTM45-MISO-200-02-Hold","DoC":0.1042,"CureRate":1.003},{"Series":"MTM45-MISO-200-02-Hold","DoC":0.1071,"CureRate":1.040},{"Series":"MTM45-MISO-200-02-Hold","DoC":0.1101,"CureRate":1.070},{"Series":"MTM45-MISO-200-02-Hold","DoC":0.1125,"CureRate":1.097},{"Series":"MTM45-MISO-200-02-Hold","DoC":0.118,"CureRate":1.130},{"Series":"MTM45-MISO-200-02-Hold","DoC":0.126,"CureRate":1.165},{"Series":"MTM45-MISO-200-02-Hold","DoC":0.14,"CureRate":1.225},{"Series":"MTM45-MISO-200-02-Hold","DoC":0.158,"CureRate":1.285},{"Series":"MTM45-MISO-200-02-Hold","DoC":0.175,"CureRate":1.335},{"Series":"MTM45-MISO-200-02-Hold","DoC":0.2,"CureRate":1.395},{"Series":"MTM45-MISO-200-02-Hold","DoC":0.23,"CureRate":1.443},{"Series":"MTM45-MISO-200-02-Hold","DoC":0.26,"CureRate":1.472},{"Series":"MTM45-MISO-200-02-Hold","DoC":0.29,"CureRate":1.484},{"Series":"MTM45-MISO-200-02-Hold","DoC":0.32,"CureRate":1.486},{"Series":"MTM45-MISO-200-02-Hold","DoC":0.35,"CureRate":1.480},{"Series":"MTM45-MISO-200-02-Hold","DoC":0.38,"CureRate":1.463},{"Series":"MTM45-MISO-200-02-Hold","DoC":0.41,"CureRate":1.435},{"Series":"MTM45-MISO-200-02-Hold","DoC":0.44,"CureRate":1.395},{"Series":"MTM45-MISO-200-02-Hold","DoC":0.47,"CureRate":1.345},{"Series":"MTM45-MISO-200-02-Hold","DoC":0.5,"CureRate":1.285},{"Series":"MTM45-MISO-200-02-Hold","DoC":0.53,"CureRate":1.215},{"Series":"MTM45-MISO-200-02-Hold","DoC":0.56,"CureRate":1.135},{"Series":"MTM45-MISO-200-02-Hold","DoC":0.6,"CureRate":1.015},{"Series":"MTM45-MISO-200-02-Hold","DoC":0.63,"CureRate":0.925},{"Series":"MTM45-MISO-200-02-Hold","DoC":0.66,"CureRate":0.830},{"Series":"MTM45-MISO-200-02-Hold","DoC":0.69,"CureRate":0.725},{"Series":"MTM45-MISO-200-02-Hold","DoC":0.72,"CureRate":0.615},{"Series":"MTM45-MISO-200-02-Hold","DoC":0.75,"CureRate":0.520},{"Series":"MTM45-MISO-200-02-Hold","DoC":0.78,"CureRate":0.430},{"Series":"MTM45-MISO-200-02-Hold","DoC":0.81,"CureRate":0.345},{"Series":"MTM45-MISO-200-02-Hold","DoC":0.84,"CureRate":0.265},{"Series":"MTM45-MISO-200-02-Hold","DoC":0.87,"CureRate":0.190},{"Series":"MTM45-MISO-200-02-Hold","DoC":0.9,"CureRate":0.118},{"Series":"MTM45-MISO-200-02-Hold","DoC":0.93,"CureRate":0.065},{"Series":"MTM45-MISO-200-02-Hold","DoC":0.96,"CureRate":0.030},{"Series":"MTM45-MISO-200-02-Hold","DoC":0.98,"CureRate":0.012},{"Series":"MTM45-MISO-200-02-Hold","DoC":1.0,"CureRate":0}
]},
"encoding": {
  "x": {"field": "DoC", "type": "quantitative",
    "scale": {"domain": [0, 1.04], "nice": false, "zero": false},
    "axis": {
      "title": "DoC", "titleFontSize": 14, "titleFontWeight": "bold", "titleColor": "black", "titlePadding": 3,
      "values": [0,0.02,0.04,0.06,0.08,0.1,0.12,0.14,0.16,0.18,0.2,0.22,0.24,0.26,0.28,0.3,0.32,0.34,0.36,0.38,0.4,0.42,0.44,0.46,0.48,0.5,0.52,0.54,0.56,0.58,0.6,0.62,0.64,0.66,0.68,0.7,0.72,0.74,0.76,0.78,0.8,0.82,0.84,0.86,0.88,0.9,0.92,0.94,0.96,0.98,1.0,1.02,1.04],
      "labelExpr": "abs(datum.value*10-round(datum.value*10))<0.001 ? format(datum.value,'.1f') : ''",
      "labelFontSize": 13, "labelFontWeight": "bold", "labelColor": "black", "labelPadding": 20,
      "labelFlush": false, "labelOverlap": false,
      "offset": 6, "domain": true, "domainColor": "#8c8c8c", "domainWidth": 7,
      "ticks": true, "tickSize": -14, "tickColor": "black", "tickWidth": 1,
      "grid": true, "gridColor": "black", "gridDash": [3, 3], "gridWidth": 1,
      "gridOpacity": {"condition": {"test": "abs(datum.value*10-round(datum.value*10))<0.001", "value": 1}, "value": 0}
    }
  },
  "y": {"field": "CureRate", "type": "quantitative",
    "scale": {"domain": [-0.078, 1.557], "nice": false, "zero": false},
    "axis": {
      "title": "Cure Rate (1/s)", "titleFontSize": 14, "titleFontWeight": "bold", "titleColor": "#007000", "titlePadding": 9,
      "values": [-0.05,0,0.05,0.1,0.15,0.2,0.25,0.3,0.35,0.4,0.45,0.5,0.55,0.6,0.65,0.7,0.75,0.8,0.85,0.9,0.95,1.0,1.05,1.1,1.15,1.2,1.25,1.3,1.35,1.4,1.45,1.5,1.55],
      "labelExpr": "abs(datum.value*5-round(datum.value*5))<0.001 ? (abs(datum.value)<0.001 ? '0.0' : format(datum.value,'.1f')+'m') : ''",
      "labelFontSize": 13, "labelFontWeight": "bold", "labelColor": "#007000", "labelPadding": 3,
      "labelOverlap": false,
      "domain": true, "domainColor": "black", "domainWidth": 1.5,
      "tickColor": "#333333", "tickWidth": 1,
      "tickSize": {"condition": {"test": "abs(datum.value*5-round(datum.value*5))<0.001", "value": 6}, "value": -8},
      "grid": true, "gridColor": "#555555", "gridDash": [3, 3], "gridWidth": 1,
      "gridOpacity": {"condition": {"test": "abs(datum.value*5-round(datum.value*5))<0.001", "value": 1}, "value": 0}
    }
  },
  "color": {"field": "Series", "type": "nominal",
    "scale": {"domain": ["MTM45-MISO-100-02-Hold","MTM45-MISO-110-03-Hold","MTM45-MISO-120-02-Hold","MTM45-MISO-130-02-Hold","MTM45-MISO-140-01-Hold","MTM45-MISO-150-03-Hold","MTM45-MISO-155-03-Hold","MTM45-MISO-160-03-Hold","MTM45-MISO-170-01-Hold","MTM45-MISO-175-02-Hold","MTM45-MISO-180-01-Hold","MTM45-MISO-180-04-Hold","MTM45-MISO-190-03-Hold","MTM45-MISO-200-02-Hold"],
      "range": ["#18e018","#22d418","#30c618","#42b418","#52a618","#659a18","#768c14","#857c14","#8c6614","#9c5814","#b04814","#c43a12","#dc2a10","#ee1410"]},
    "legend": {"orient": "top", "columns": 5, "title": null, "symbolType": "circle", "symbolSize": 100, "symbolStrokeWidth": 0, "symbolOpacity": 1, "symbolOffset": 5,
      "labelFontSize": 15, "labelFontWeight": "bold", "labelColor": "black", "labelOffset": 6, "labelLimit": 300,
      "columnPadding": 13.5, "rowPadding": 2.5, "offset": 4, "padding": 0}}
},
"layer": [
  {"mark": {"type": "line", "color": "black", "strokeWidth": 2.5, "xOffset": 2, "yOffset": 2},
   "encoding": {"color": {"value": "black"}, "detail": {"field": "Series"}}},
  {"mark": {"type": "line", "strokeWidth": 2.5}},
  {"transform": [{"filter": "datum.DoC >= (datum.Series=='MTM45-MISO-100-02-Hold'?0.003:datum.Series=='MTM45-MISO-110-03-Hold'?0.005:datum.Series=='MTM45-MISO-120-02-Hold'?0.006:datum.Series=='MTM45-MISO-130-02-Hold'?0.011:datum.Series=='MTM45-MISO-140-01-Hold'?0.012:datum.Series=='MTM45-MISO-150-03-Hold'?0.018:datum.Series=='MTM45-MISO-155-03-Hold'?0.021:datum.Series=='MTM45-MISO-160-03-Hold'?0.027:datum.Series=='MTM45-MISO-170-01-Hold'?0.031:datum.Series=='MTM45-MISO-180-04-Hold'?0.047:datum.Series=='MTM45-MISO-180-01-Hold'?0.2:datum.Series=='MTM45-MISO-200-02-Hold'?0.112:9)"}],
   "mark": {"type": "line", "strokeWidth": 10, "strokeCap": "round", "strokeJoin": "round", "xOffset": 2, "yOffset": 2},
   "encoding": {"color": {"value": "black"}, "detail": {"field": "Series"}}},
  {"transform": [{"filter": "datum.DoC >= (datum.Series=='MTM45-MISO-100-02-Hold'?0.003:datum.Series=='MTM45-MISO-110-03-Hold'?0.005:datum.Series=='MTM45-MISO-120-02-Hold'?0.006:datum.Series=='MTM45-MISO-130-02-Hold'?0.011:datum.Series=='MTM45-MISO-140-01-Hold'?0.012:datum.Series=='MTM45-MISO-150-03-Hold'?0.018:datum.Series=='MTM45-MISO-155-03-Hold'?0.021:datum.Series=='MTM45-MISO-160-03-Hold'?0.027:datum.Series=='MTM45-MISO-170-01-Hold'?0.031:datum.Series=='MTM45-MISO-180-04-Hold'?0.047:datum.Series=='MTM45-MISO-180-01-Hold'?0.2:datum.Series=='MTM45-MISO-200-02-Hold'?0.112:9)"}],
   "mark": {"type": "line", "strokeWidth": 10, "strokeCap": "round", "strokeJoin": "round"}},
  {"transform": [{"filter": "datum.DoC < (datum.Series=='MTM45-MISO-100-02-Hold'?0.003:datum.Series=='MTM45-MISO-110-03-Hold'?0.005:datum.Series=='MTM45-MISO-120-02-Hold'?0.006:datum.Series=='MTM45-MISO-130-02-Hold'?0.011:datum.Series=='MTM45-MISO-140-01-Hold'?0.012:datum.Series=='MTM45-MISO-150-03-Hold'?0.018:datum.Series=='MTM45-MISO-155-03-Hold'?0.021:datum.Series=='MTM45-MISO-160-03-Hold'?0.027:datum.Series=='MTM45-MISO-170-01-Hold'?0.031:datum.Series=='MTM45-MISO-180-04-Hold'?0.047:datum.Series=='MTM45-MISO-180-01-Hold'?0.2:datum.Series=='MTM45-MISO-200-02-Hold'?0.112:9)"}],
   "mark": {"type": "point", "filled": true, "shape": "circle", "size": 85, "opacity": 1, "xOffset": 2, "yOffset": 2},
   "encoding": {"color": {"value": "black"}}},
  {"transform": [{"filter": "datum.DoC < (datum.Series=='MTM45-MISO-100-02-Hold'?0.003:datum.Series=='MTM45-MISO-110-03-Hold'?0.005:datum.Series=='MTM45-MISO-120-02-Hold'?0.006:datum.Series=='MTM45-MISO-130-02-Hold'?0.011:datum.Series=='MTM45-MISO-140-01-Hold'?0.012:datum.Series=='MTM45-MISO-150-03-Hold'?0.018:datum.Series=='MTM45-MISO-155-03-Hold'?0.021:datum.Series=='MTM45-MISO-160-03-Hold'?0.027:datum.Series=='MTM45-MISO-170-01-Hold'?0.031:datum.Series=='MTM45-MISO-180-04-Hold'?0.047:datum.Series=='MTM45-MISO-180-01-Hold'?0.2:datum.Series=='MTM45-MISO-200-02-Hold'?0.112:9)"}],
   "mark": {"type": "point", "filled": true, "shape": "circle", "size": 85, "opacity": 1}}
]
}
